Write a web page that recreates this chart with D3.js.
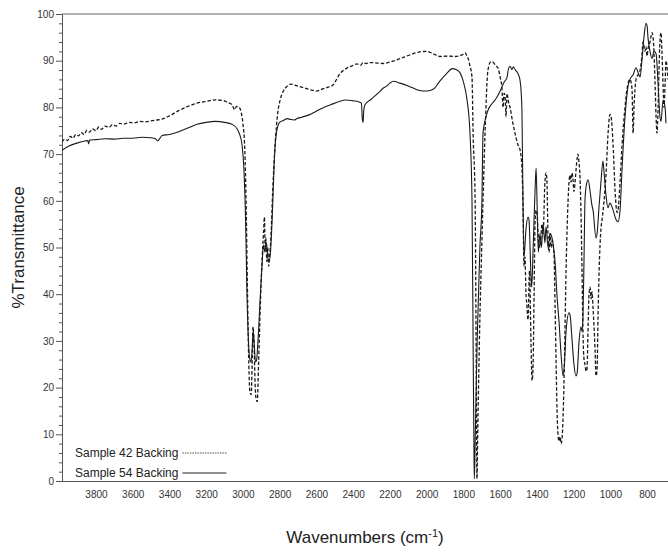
<!DOCTYPE html>
<html>
<head>
<meta charset="utf-8">
<script src="https://cdn.jsdelivr.net/npm/d3@7"></script>
<style>
  body { margin: 0; background: #fff; }
  text { font-family: "Liberation Sans", Arial, sans-serif; fill: #222; }
</style>
</head>
<body>
<script>
// ---------- data ----------
var xTicks = [3800, 3600, 3400, 3200, 3000, 2800, 2600, 2400, 2200, 2000, 1800, 1600, 1400, 1200, 1000, 800];
var yTicks = [0, 10, 20, 30, 40, 50, 60, 70, 80, 90, 100];
var seriesNames = ["Sample 42 Backing", "Sample 54 Backing"];

// Sample 42 (dashed)
var s42Wave = [3985,3970,3955,3940,3925,3910,3895,3880,3865,3850,3835,3820,3800,3785,3770,3750,3730,3710,3690,3670,3650,3620,3590,3560,3530,3500,3470,3440,3400,3350,3300,3250,3200,3150,3110,3080,3060,3045,3035,3020,3010,3000,2990,2983,2975,2968,2962,2955,2950,2945,2940,2933,2928,2922,2915,2905,2895,2888,2883,2879,2875,2870,2865,2860,2855,2848,2838,2825,2810,2798,2780,2760,2740,2706,2670,2635,2600,2570,2540,2510,2472,2434,2400,2379,2360,2346,2330,2308,2270,2237,2200,2161,2120,2080,2036,2000,1960,1927,1880,1850,1818,1800,1791,1780,1775,1765,1753,1747,1736,1730,1726,1722,1710,1700,1693,1682,1666,1650,1639,1625,1611,1600,1590,1584,1578,1573,1568,1562,1556,1546,1530,1519,1503,1492,1481,1475,1470,1465,1459,1455,1448,1440,1432,1426,1421,1415,1410,1404,1398,1392,1383,1372,1366,1356,1350,1345,1339,1333,1328,1322,1317,1306,1301,1295,1290,1285,1279,1274,1268,1263,1257,1250,1241,1230,1225,1219,1214,1208,1203,1198,1192,1181,1176,1170,1165,1160,1154,1149,1143,1138,1132,1127,1121,1116,1110,1105,1100,1094,1083,1078,1072,1067,1061,1051,1045,1034,1023,1013,1002,996,985,974,963,958,947,936,920,909,893,882,876,871,860,849,838,828,822,811,806,800,795,784,773,767,757,751,746,740,735,730,724,719,713,708,702,697,686];
var s42Value = [72.6,73.2,72.9,73.8,73.4,74.2,73.9,74.6,74.2,75.1,74.7,75.4,75.0,75.8,75.3,76.0,75.7,76.3,76.0,76.6,76.4,76.8,76.7,77.0,76.9,77.1,77.3,77.5,78.2,79.3,80.2,80.9,81.3,81.6,81.5,81.0,80.6,79.5,80.2,80.0,79.0,76.5,71,60,40,25,19,18.5,25,33,30,20,17.5,17,25,38,48,53,56.5,50,52,47,50,46,48,52,62,72,79,81.5,83.5,84.5,85,84.6,84.2,83.8,83.5,83.9,84.3,84.8,87.2,88.4,89,89.3,89.0,89.6,89.4,89.6,89.5,89.4,89.7,90.2,90.8,91.4,91.9,92.0,91.4,90.9,91.0,90.9,91.1,91.4,91.7,91.0,90.6,89.0,86.5,74.5,60,25,0.5,10,35,50,60,74.5,88,89.8,89.7,89.0,88.4,86.5,84.2,80,83,82.5,78,83,81.5,80,76.5,74.5,72,71,67,58,46,48,40,38,34.5,45,30,21.5,24,40,55,58,57,52,50,55,53,64,66,64,52,49,53,50,51.5,48,38,25,15,10,8.5,9.5,8,9,14,25,45,60,64,65.5,64,66,64.5,62,64,69,70,68,65,58,45,32,26,25,23.5,24,33,40,41.5,39,40.5,37,28,22.5,24,35,45,54,56,60,66,74,78.5,78,72,62,57.5,58,64,72,80,84,86,84,74.5,80,86,87,88,91,94,92,93,91,92.5,94,96,95,86,78,74.5,80,88,94,96,92,85,80,85,90,86];

// Sample 54 (solid)
var s54Wave = [3985,3950,3900,3860,3845,3840,3835,3800,3750,3700,3650,3600,3550,3500,3475,3465,3455,3440,3400,3350,3300,3250,3200,3150,3100,3060,3030,3016,3005,2995,2985,2978,2970,2962,2956,2950,2944,2938,2932,2926,2918,2905,2895,2888,2880,2872,2865,2858,2850,2840,2830,2818,2800,2780,2760,2740,2720,2706,2680,2640,2600,2560,2520,2480,2440,2400,2370,2355,2350,2346,2342,2335,2300,2260,2237,2220,2200,2180,2145,2100,2053,2020,1998,1960,1927,1890,1860,1840,1818,1800,1780,1764,1753,1747,1742,1740,1736,1725,1710,1699,1693,1680,1666,1640,1620,1600,1580,1562,1555,1546,1535,1528,1518,1508,1500,1492,1485,1481,1476,1470,1459,1448,1443,1432,1428,1420,1410,1404,1398,1392,1383,1375,1366,1356,1350,1339,1328,1317,1306,1301,1290,1279,1268,1257,1250,1241,1225,1219,1208,1198,1187,1181,1170,1160,1154,1149,1143,1138,1132,1121,1110,1100,1094,1078,1072,1061,1051,1040,1034,1023,1013,1002,985,969,958,947,936,920,904,893,876,860,849,838,828,817,806,800,795,784,773,762,751,740,730,724,713,702,697,686];
var s54Value = [70.8,71.7,72.4,72.8,72.9,72.2,73.0,73.1,73.3,73.2,73.4,73.4,73.6,73.5,73.3,72.8,73.2,74,74.2,74.8,75.6,76.4,76.8,77.0,76.8,76.4,75.3,74,72,67,55,40,30,26,25.5,28,32,29,25.5,25.8,30,40,47,50.5,49,51,48,47,49,57,68,74.5,76.8,77.2,77.6,77.4,77.3,77.6,77.9,78.4,79.2,80.0,80.6,81.2,81.6,81.4,81.2,80.9,77.5,76.8,79.5,80.6,81.8,83.2,84.1,84.5,85.2,85.6,85.2,84.6,83.8,83.5,83.5,84.0,85.7,87.3,88.3,88.1,87.4,85.5,81.6,74.5,60,30,5,0.5,8,30,50,60,74.5,77.5,79.4,81,82,83.5,85.3,86.5,88.2,88.8,88.1,88.7,88.1,87.6,87.0,85.9,83,79,62,48,54,56.5,56,44,41.5,50,62,67,58,49,53,50,55,51,54.5,50,53,52,49,47,39.5,34,27,22.5,25,32,36,35.5,30,25,22.5,23,30,33,32,35,48,60,63,64.5,62,59,58,52,53,59,64,68.5,66,61,58.5,59.5,58,56,55.5,58,67,78,84.4,86,87,88.5,87.5,86.5,90,95,98,97.5,95,92,90.5,92,91.5,85,78,77,81.6,80,76.6];

// ---------- layout ----------
var width = 668, height = 552;
var plotLeft = 62, plotTop = 14, plotRight = 668, plotBottom = 481;

var svg = d3.select("body").append("svg")
    .attr("width", width)
    .attr("height", height);

var x = d3.scaleLinear().domain([3985, 686]).range([plotLeft, plotRight]);
var y = d3.scaleLinear().domain([0, 100]).range([plotBottom, plotTop]);

svg.append("clipPath").attr("id", "plotClip")
  .append("rect")
    .attr("x", plotLeft).attr("y", plotTop - 2)
    .attr("width", plotRight - plotLeft).attr("height", plotBottom - plotTop + 2);

// frame: top border + left/bottom axes
svg.append("line")
    .attr("x1", plotLeft).attr("x2", plotRight).attr("y1", plotTop).attr("y2", plotTop)
    .style("stroke", "#666").style("stroke-width", 1.2);

var yAxis = d3.axisLeft(y)
    .tickValues(d3.range(0, 101, 2))
    .tickSize(3)
    .tickFormat(function(d) { return yTicks.indexOf(d) >= 0 ? d : ""; });

var gy = svg.append("g")
    .attr("transform", "translate(" + plotLeft + ",0)")
    .call(yAxis);
gy.select(".domain").style("stroke", "#555");
gy.selectAll(".tick line")
    .attr("x2", function(d) { return d % 10 === 0 ? -6 : -3; })
    .style("stroke", "#555");
gy.selectAll(".tick text")
    .attr("x", -8)
    .style("font-size", "10px")
    .style("font-family", "Liberation Sans, Arial, sans-serif")
    .style("fill", "#333");

var xAxis = d3.axisBottom(x)
    .tickValues(xTicks)
    .tickFormat(d3.format("d"))
    .tickSize(0)
    .tickPadding(10);

var gx = svg.append("g")
    .attr("transform", "translate(0," + plotBottom + ")")
    .call(xAxis);
gx.select(".domain").attr("d", "M" + plotLeft + ",0.5H" + plotRight).style("stroke", "#555");
gx.selectAll(".tick text")
    .style("font-size", "10px")
    .style("font-family", "Liberation Sans, Arial, sans-serif")
    .style("fill", "#333");

// axis titles
svg.append("text")
    .attr("transform", "translate(24," + ((plotTop + plotBottom) / 2) + ") rotate(-90)")
    .attr("text-anchor", "middle")
    .style("font-size", "17px")
    .text("%Transmittance");

var xt = svg.append("text")
    .attr("x", (plotLeft + plotRight) / 2)
    .attr("y", 543)
    .attr("text-anchor", "middle")
    .style("font-size", "17px");
xt.append("tspan").text("Wavenumbers (cm");
xt.append("tspan").attr("dy", -6).style("font-size", "11px").text("-1");
xt.append("tspan").attr("dy", 6).text(")");

// spectra
var line = d3.line()
    .x(function(d) { return x(d[0]); })
    .y(function(d) { return y(d[1]); })
    .curve(d3.curveMonotoneX);

var s42 = d3.zip(s42Wave, s42Value);
var s54 = d3.zip(s54Wave, s54Value);

var plot = svg.append("g").attr("clip-path", "url(#plotClip)");

plot.append("path")
    .datum(s54)
    .attr("d", line)
    .style("fill", "none")
    .style("stroke", "#1a1a1a")
    .style("stroke-width", 1.1);

plot.append("path")
    .datum(s42)
    .attr("d", line)
    .style("fill", "none")
    .style("stroke", "#1a1a1a")
    .style("stroke-width", 1.3)
    .style("stroke-dasharray", "3.5,2");

// legend
var legendY = [457, 477];
seriesNames.forEach(function(name, i) {
    var t = svg.append("text")
        .attr("x", 75)
        .attr("y", legendY[i])
        .style("font-size", "12px")
        .text(name);
    var w = t.node().getComputedTextLength();
    svg.append("line")
        .attr("x1", 75 + w + 4).attr("x2", 75 + w + 48)
        .attr("y1", legendY[i] - 4).attr("y2", legendY[i] - 4)
        .style("stroke", "#222")
        .style("stroke-width", i === 0 ? 0.8 : 1)
        .style("stroke-dasharray", i === 0 ? "1.5,1" : null);
});
</script>
</body>
</html>
